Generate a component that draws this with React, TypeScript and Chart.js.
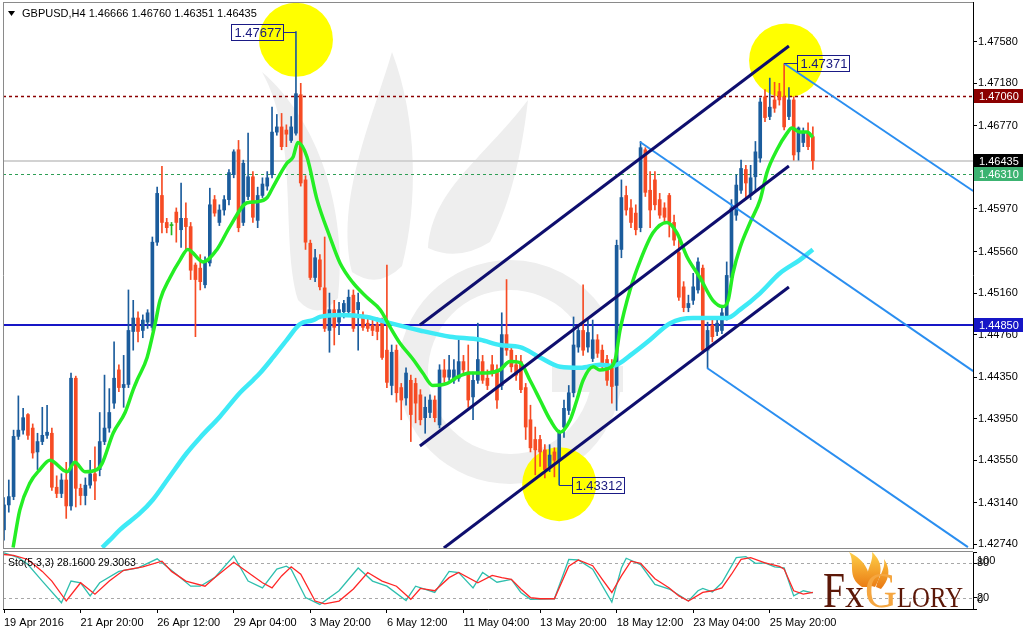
import React, { useEffect, useRef } from 'react';
import { Chart, registerables } from 'chart.js';

Chart.register(...registerables);

// GBPUSD H4 bars, 19 Apr 2016 04:00 .. 27 May 2016 08:00
const OPEN = [
  1.4288, 1.4312, 1.4320, 1.4378, 1.4384, 1.4399, 1.4386, 1.4363, 1.4373, 1.4379,
  1.4381, 1.4329, 1.4323, 1.4336, 1.4311, 1.4434, 1.4328, 1.4321, 1.4331, 1.4342,
  1.4346, 1.4373, 1.4386, 1.4410, 1.4442, 1.4425, 1.4428, 1.4479, 1.4492, 1.4480,
  1.4488, 1.4483, 1.4565, 1.4610, 1.4584, 1.4581, 1.4594, 1.4577, 1.4588, 1.4580,
  1.4543, 1.4540, 1.4524, 1.4545, 1.4606, 1.4584, 1.4596, 1.4606, 1.4630, 1.4654,
  1.4584, 1.4609, 1.4628, 1.4586, 1.4610, 1.4619, 1.4630, 1.4671, 1.4676, 1.4673,
  1.4663, 1.4670, 1.4707, 1.4625, 1.4564, 1.4531, 1.4548, 1.4521, 1.4480, 1.4500,
  1.4488, 1.4498, 1.4498, 1.4514, 1.4500, 1.4492, 1.4487, 1.4485, 1.4486, 1.4488,
  1.4461, 1.4427, 1.4461, 1.4425, 1.4415, 1.4432, 1.4429, 1.4418, 1.4396, 1.4401,
  1.4413, 1.4389, 1.4442, 1.4435, 1.4432, 1.4434, 1.4450, 1.4440, 1.4416, 1.4432,
  1.4450, 1.4434, 1.4447, 1.4442, 1.4427, 1.4476, 1.4461, 1.4447, 1.4450, 1.4425,
  1.4394, 1.4375, 1.4375, 1.4365, 1.4349, 1.4363, 1.4355, 1.4387, 1.4403, 1.4420,
  1.4464, 1.4480, 1.4464, 1.4453, 1.4471, 1.4461, 1.4452, 1.4447, 1.4427, 1.4558,
  1.4610, 1.4598, 1.4593, 1.4579, 1.4654, 1.4615, 1.4625, 1.4606, 1.4598, 1.4610,
  1.4584, 1.4555, 1.4522, 1.4502, 1.4509, 1.4519, 1.4540, 1.4461, 1.4485, 1.4479,
  1.4480, 1.4493, 1.4531, 1.4591, 1.4615, 1.4635, 1.4610, 1.4628, 1.4646, 1.4705,
  1.4686, 1.4702, 1.4710, 1.4705, 1.4686, 1.4702, 1.4652, 1.4661, 1.4671, 1.46666,
];
const HIGH = [
  1.4319, 1.4336, 1.4384, 1.4417, 1.4405, 1.4400, 1.4390, 1.4381, 1.4406, 1.4408,
  1.4386, 1.4340, 1.4342, 1.4353, 1.4439, 1.4436, 1.4332, 1.4338, 1.4355, 1.4368,
  1.4401, 1.4437, 1.4424, 1.4469, 1.4447, 1.4456, 1.4519, 1.4509, 1.4498, 1.4495,
  1.4500, 1.4570, 1.4618, 1.4638, 1.4588, 1.4584, 1.4598, 1.4622, 1.4603, 1.4584,
  1.4545, 1.4553, 1.4551, 1.4617, 1.4610, 1.4601, 1.4610, 1.4635, 1.4654, 1.4663,
  1.4644, 1.4670, 1.4633, 1.4618, 1.4627, 1.4633, 1.4695, 1.4688, 1.4689, 1.4678,
  1.4686, 1.47677, 1.4718, 1.4629, 1.4567, 1.4558, 1.4553, 1.4570, 1.4516, 1.4509,
  1.4507, 1.4509, 1.4519, 1.4519, 1.4516, 1.4498, 1.4492, 1.4490, 1.4492, 1.4492,
  1.4543, 1.4466, 1.4466, 1.4429, 1.4444, 1.4437, 1.4434, 1.4423, 1.4416, 1.4418,
  1.4417, 1.4447, 1.4452, 1.4456, 1.4452, 1.4471, 1.4456, 1.4466, 1.4440, 1.4487,
  1.4456, 1.4442, 1.4456, 1.4447, 1.4497, 1.4529, 1.4466, 1.4456, 1.4456, 1.4429,
  1.4408, 1.4387, 1.4379, 1.4370, 1.4370, 1.4367, 1.4384, 1.4413, 1.4427, 1.4493,
  1.4485, 1.4524, 1.4490, 1.4490, 1.4476, 1.4466, 1.4456, 1.4452, 1.4567, 1.4625,
  1.4619, 1.4606, 1.4601, 1.4662, 1.4656, 1.4633, 1.4633, 1.4612, 1.4603, 1.4612,
  1.4591, 1.4567, 1.4527, 1.4514, 1.4535, 1.4550, 1.4543, 1.4488, 1.4492, 1.4492,
  1.4503, 1.4546, 1.4606, 1.4630, 1.4644, 1.4639, 1.4639, 1.4662, 1.4704, 1.4712,
  1.4723, 1.4719, 1.4718, 1.47371, 1.4714, 1.4705, 1.4676, 1.4675, 1.4680, 1.46760,
];
const LOW = [
  1.4278, 1.4305, 1.4317, 1.4375, 1.4380, 1.4375, 1.4357, 1.4346, 1.4370, 1.4376,
  1.4326, 1.4319, 1.4319, 1.4299, 1.4307, 1.4310, 1.4312, 1.4312, 1.4328, 1.4317,
  1.4340, 1.4370, 1.4382, 1.4405, 1.4421, 1.4406, 1.4425, 1.4461, 1.4469, 1.4473,
  1.4482, 1.4480, 1.4562, 1.4574, 1.4574, 1.4572, 1.4565, 1.4560, 1.4558, 1.4529,
  1.4474, 1.4519, 1.4521, 1.4542, 1.4590, 1.4581, 1.4591, 1.4601, 1.4627, 1.4575,
  1.4581, 1.4606, 1.4584, 1.4579, 1.4608, 1.4615, 1.4627, 1.4668, 1.4654, 1.4657,
  1.4661, 1.4668, 1.4619, 1.4558, 1.4529, 1.4527, 1.4519, 1.4479, 1.4459, 1.4466,
  1.4476, 1.4492, 1.4495, 1.4479, 1.4461, 1.4480, 1.4479, 1.4475, 1.4471, 1.4452,
  1.4425, 1.4418, 1.4411, 1.4394, 1.4408, 1.4373, 1.4391, 1.4389, 1.4381, 1.4396,
  1.4392, 1.4386, 1.4430, 1.4432, 1.4429, 1.4431, 1.4439, 1.4406, 1.4394, 1.4429,
  1.4429, 1.4423, 1.4436, 1.4405, 1.4423, 1.4456, 1.4440, 1.4432, 1.4420, 1.4375,
  1.4363, 1.4341, 1.4349, 1.4338, 1.4344, 1.4339, 1.43312, 1.4377, 1.4399, 1.4416,
  1.4459, 1.4456, 1.4459, 1.4450, 1.4454, 1.4444, 1.4427, 1.4410, 1.4403, 1.4550,
  1.4591, 1.4579, 1.4572, 1.4575, 1.4609, 1.4579, 1.4596, 1.4588, 1.4584, 1.4570,
  1.4562, 1.4509, 1.4498, 1.4498, 1.4505, 1.4516, 1.4458, 1.4444, 1.4469, 1.4475,
  1.4477, 1.4490, 1.4529, 1.4586, 1.4612, 1.4606, 1.4606, 1.4615, 1.4642, 1.4681,
  1.4683, 1.4690, 1.4697, 1.4673, 1.4683, 1.4644, 1.4644, 1.4657, 1.4654, 1.46351,
];
const CLOSE = [
  1.4312, 1.4320, 1.4378, 1.4384, 1.4396, 1.4379, 1.4362, 1.4373, 1.4379, 1.4382,
  1.4329, 1.4323, 1.4336, 1.4311, 1.4434, 1.4328, 1.4321, 1.4331, 1.4342, 1.4335,
  1.4373, 1.4386, 1.4401, 1.4434, 1.4425, 1.4428, 1.4480, 1.4492, 1.4479, 1.4490,
  1.4497, 1.4565, 1.4612, 1.4584, 1.4579, 1.4581, 1.4584, 1.4588, 1.4580, 1.4538,
  1.4529, 1.4527, 1.4546, 1.4601, 1.4593, 1.4596, 1.4606, 1.4632, 1.4652, 1.4579,
  1.4641, 1.4628, 1.4589, 1.4610, 1.4621, 1.4627, 1.4671, 1.4676, 1.4657, 1.4669,
  1.4676, 1.4708, 1.4622, 1.4565, 1.4531, 1.4550, 1.4522, 1.4482, 1.4500, 1.4483,
  1.4500, 1.4506, 1.4512, 1.4482, 1.4507, 1.4483, 1.4482, 1.4480, 1.4479, 1.4454,
  1.4430, 1.4459, 1.4420, 1.4413, 1.4439, 1.4399, 1.4410, 1.4394, 1.4406, 1.4413,
  1.4396, 1.4442, 1.4435, 1.4442, 1.4442, 1.4450, 1.4442, 1.4413, 1.4432, 1.4452,
  1.4432, 1.4427, 1.4440, 1.4413, 1.4476, 1.4461, 1.4445, 1.4437, 1.4423, 1.4387,
  1.4367, 1.4365, 1.4363, 1.4346, 1.4360, 1.4355, 1.4381, 1.4405, 1.4420, 1.4466,
  1.4480, 1.4461, 1.4478, 1.4471, 1.4458, 1.4449, 1.4432, 1.4426, 1.4562, 1.4608,
  1.4596, 1.4584, 1.4577, 1.4656, 1.4613, 1.4596, 1.4601, 1.4591, 1.4589, 1.4584,
  1.4567, 1.4512, 1.4502, 1.4506, 1.4522, 1.4546, 1.4461, 1.4480, 1.4474, 1.4487,
  1.4497, 1.4533, 1.4598, 1.4620, 1.4636, 1.4622, 1.4627, 1.4652, 1.4700, 1.4685,
  1.4695, 1.4694, 1.4702, 1.4676, 1.4702, 1.4649, 1.4675, 1.4671, 1.4657, 1.46435,
];

// Time axis: bar index of each label
const TIME_TICKS = [0, 16, 32, 48, 64, 80, 96, 112, 128, 144, 160];
const TIME_LABELS = [
  '19 Apr 2016', '21 Apr 20:00', '26 Apr 12:00', '29 Apr 04:00', '3 May 20:00', '6 May 12:00',
  '11 May 04:00', '13 May 20:00', '18 May 12:00', '23 May 04:00', '25 May 20:00',
];
const PRICE_TICKS = [1.4758, 1.4718, 1.4677, 1.4597, 1.4556, 1.4516, 1.4476, 1.4435, 1.4395, 1.4355, 1.4314, 1.4274];

// Moving averages as [bar, price]
const MA_FAST = [
  [1.9, 1.4271], [3.3, 1.4307], [5.4, 1.4333], [7.5, 1.4346], [9.6, 1.4355], [13.2, 1.4344], [14.8, 1.4353],
  [16.9, 1.4344], [19.4, 1.4346], [20.5, 1.4352], [22.8, 1.4381], [25.3, 1.4401], [27, 1.4423], [27.8, 1.4432],
  [29.9, 1.4454], [31.6, 1.4487], [32.6, 1.4509], [34.7, 1.4531], [36.8, 1.4548], [38.4, 1.4558], [41.6, 1.4546],
  [44.5, 1.4558], [47.2, 1.4580], [50.8, 1.4603], [52.9, 1.4604], [55, 1.4608], [56.2, 1.4618], [59.1, 1.4641],
  [60.4, 1.4647], [61.4, 1.4661], [63.3, 1.4647], [65.4, 1.4606], [68.1, 1.4570], [70.2, 1.4545], [72.9, 1.4526],
  [75.8, 1.4512], [78.6, 1.4500], [80.7, 1.4483], [82.7, 1.4468], [85.5, 1.4452], [87.5, 1.4439], [89.6, 1.4427],
  [92.6, 1.4429], [94.7, 1.4435], [97.4, 1.4439], [100.9, 1.4439], [103.6, 1.4442], [105.7, 1.4450], [107.8, 1.4449],
  [109.9, 1.4432], [112, 1.4413], [114.1, 1.4394], [116.2, 1.4382], [118.3, 1.4394], [119.7, 1.4413], [121, 1.4432],
  [123.1, 1.4445], [124.5, 1.4442], [126.6, 1.4444], [127.7, 1.4452], [128.7, 1.4480], [130.8, 1.4519], [133, 1.4548],
  [135.6, 1.4574], [138.5, 1.4584], [140.6, 1.4574], [142.7, 1.4551], [145.4, 1.4531], [148.1, 1.4509], [150.2, 1.4503],
  [151.3, 1.4509], [152.3, 1.4535], [153.8, 1.4560], [155.9, 1.4584], [158, 1.4606], [159.4, 1.4632], [161.5, 1.4654],
  [163.6, 1.4670], [164.6, 1.4675], [166.3, 1.4671], [167.8, 1.4671], [169, 1.4666],
];
const MA_SLOW = [
  [20.5, 1.4271], [22.1, 1.4278], [24.2, 1.4288], [28.4, 1.4304], [31.1, 1.4317], [34.1, 1.4336], [38.2, 1.4362],
  [41, 1.4377], [45.1, 1.4397], [49.3, 1.4420], [52, 1.4432], [53.5, 1.4439], [56.2, 1.4454], [59.1, 1.4471],
  [61.8, 1.4486], [64.6, 1.4490], [66, 1.4493], [70.2, 1.4495], [75.8, 1.4493], [80.7, 1.4487], [86.9, 1.4480],
  [93.2, 1.4474], [99.5, 1.4471], [103.6, 1.4466], [107.8, 1.4464], [112, 1.4454], [116.2, 1.4445], [120.4, 1.4444],
  [124.5, 1.4447], [127.2, 1.4446], [131.4, 1.4458], [135, 1.4471], [139.2, 1.4487], [144, 1.4492], [151.1, 1.4492],
  [153.8, 1.4500], [158, 1.4516], [162.1, 1.4535], [166.3, 1.4548], [169, 1.4558],
];

// Horizontal levels
const LEVEL_PRICES = [1.4706, 1.46435, 1.4631, 1.4485];
const LEVEL_LINE_COLORS = ['#8b0000', '#d2d2d2', '#2e9e55', '#1616c6'];
const LEVEL_TAG_COLORS = ['#8b0000', '#000000', '#3cb371', '#1616c6'];
const LEVEL_DASHES = [[3, 3], [], [3, 3], []];
const LEVEL_WIDTHS = [1.5, 2, 1, 2];

// Rising channel and falling lines, [bar, price] end points
const CHANNEL_TOP = [[86.9, 1.44852], [164.0, 1.47539]];
const CHANNEL_MID = [[86.9, 1.43687], [164.0, 1.46383]];
const CHANNEL_LOW = [[91.9, 1.42705], [164.0, 1.45218]];
const FALL_A = [[163.0, 1.47371], [202.5, 1.46143]];
const FALL_B = [[132.9, 1.46615], [202.5, 1.44409]];
const FALL_C = [[146.9, 1.44438], [201.4, 1.42714]];

// Marked extremes
const MARK_BARS = [61, 163, 116];
const MARK_PRICES = [1.47677, 1.47371, 1.43312];
const MARK_SIDES = ['left', 'right', 'right'];
const CIRCLE_BARS = [61, 163.4, 116];
const CIRCLE_PRICES = [1.4760, 1.4740, 1.4332];

// Stochastic (5,3,3) as [bar, value]
const STO_MAIN = [
  [0, 98.6], [3, 90], [5, 78], [8, 49], [12, 11], [14, 49], [16, 46], [18, 23], [20, 46], [24, 66], [28, 72], [32, 88],
  [36, 61], [39, 40], [41, 40], [44, 55], [48, 93], [51, 49], [54, 37], [57, 70], [59, 75], [60, 70], [63, 20], [66, 8],
  [70, 32], [74, 72], [77, 49], [80, 40], [84, 15], [86, 40], [90, 29], [93, 66], [95, 64], [98, 37], [100, 64], [103, 47],
  [106, 52], [108, 29], [110, 17], [115, 18], [118, 87], [120, 86], [123, 70], [127, 12], [129, 72], [130, 89], [133, 78],
  [136, 43], [139, 35], [143, 14], [145, 32], [146, 36], [148, 30], [150, 46], [153, 90], [155, 92], [157, 80], [159, 81],
  [161, 74], [163, 72], [165, 23], [167, 32], [169, 28.16],
];
const STO_SIGNAL = [
  [0, 95.6], [2, 93.9], [5, 86.9], [8, 66], [10, 49], [13, 14], [16, 46], [19, 26], [22, 49], [25, 68], [29, 74], [33, 84],
  [35, 66], [38, 49], [42, 40], [44, 55], [48, 82], [51, 64], [54, 46], [56, 37], [58, 58], [60, 74], [62, 61], [65, 14],
  [67, 9], [70, 14], [73, 35], [76, 64], [79, 49], [82, 40], [85, 17], [87, 36], [90, 32], [93, 55], [95, 64], [99, 46],
  [102, 59], [104, 55], [106, 52], [108, 35], [110, 20], [112, 18], [115, 18], [118, 75], [120, 86], [123, 76], [125, 52],
  [127, 29], [129, 58], [131, 84], [133, 80], [136, 53], [139, 37], [141, 23], [143, 14], [146, 29], [148, 32], [150, 37],
  [152, 61], [154, 87], [156, 90], [159, 81], [162, 75], [163, 70], [165, 32], [167, 26], [169, 29.3063],
];
const STO_LEVELS = [80, 20];

// ---- view settings ----
const X_MIN = -0.21;
const X_MAX = 202.46;
const Y_MIN = 1.42705;
const Y_MAX = 1.47963;

const BULL = '#1b5c9c';
const BEAR = '#f64b24';
const DOJI = '#22b822';
const SANS = '"Liberation Sans", Arial, sans-serif';
const SERIF = '"Liberation Serif", "DejaVu Serif", serif';

const candleColor = (i: number) => (CLOSE[i] > OPEN[i] ? BULL : CLOSE[i] < OPEN[i] ? BEAR : DOJI);
const pts = (arr: number[][]) => arr.map(([x, y]) => ({ x, y }));

const trend = (data: number[][], color: string, width: number) => ({
  type: 'line' as const,
  data: pts(data),
  borderColor: color,
  borderWidth: width,
  pointRadius: 0,
  tension: 0,
  order: 0,
});

function drawWatermark(ctx: CanvasRenderingContext2D) {
  ctx.save();
  ctx.fillStyle = '#eeeeee';
  // emblem ring
  ctx.beginPath();
  ctx.arc(510, 372, 112, 0, Math.PI * 2 - 0.6, false);
  ctx.arc(510, 372, 82, Math.PI * 2 - 0.6, 0, true);
  ctx.closePath();
  ctx.fill();
  ctx.fillRect(552, 366, 71, 26);
  // flame tongues
  ctx.beginPath();
  ctx.moveTo(298, 300);
  ctx.bezierCurveTo(280, 240, 300, 140, 262, 72);
  ctx.bezierCurveTo(318, 120, 348, 210, 338, 298);
  ctx.quadraticCurveTo(318, 322, 298, 300);
  ctx.fill();
  ctx.beginPath();
  ctx.moveTo(352, 272);
  ctx.bezierCurveTo(335, 200, 372, 120, 392, 52);
  ctx.bezierCurveTo(418, 120, 418, 205, 402, 266);
  ctx.quadraticCurveTo(378, 290, 352, 272);
  ctx.fill();
  ctx.beginPath();
  ctx.moveTo(428, 248);
  ctx.bezierCurveTo(432, 190, 482, 160, 528, 100);
  ctx.bezierCurveTo(520, 170, 505, 215, 490, 242);
  ctx.quadraticCurveTo(458, 262, 428, 248);
  ctx.fill();
  ctx.restore();
}

function fitText(ctx: CanvasRenderingContext2D, text: string, x: number, base: number, font: string, width: number, color: string | CanvasGradient) {
  ctx.save();
  ctx.font = font;
  ctx.fillStyle = color;
  ctx.textBaseline = 'alphabetic';
  const w = ctx.measureText(text).width;
  ctx.translate(x, base);
  ctx.scale(width / w, 1);
  ctx.fillText(text, 0, 0);
  ctx.restore();
}

function drawLogo(ctx: CanvasRenderingContext2D) {
  ctx.save();
  const g = ctx.createLinearGradient(0, 2, 0, 42);
  g.addColorStop(0, '#ffd24a');
  g.addColorStop(1, '#e8730f');
  ctx.fillStyle = g;
  ctx.beginPath();
  ctx.moveTo(862, 38);
  ctx.bezierCurveTo(846, 28, 856, 14, 849, 3);
  ctx.bezierCurveTo(866, 12, 872, 24, 868, 38);
  ctx.closePath();
  ctx.fill();
  ctx.beginPath();
  ctx.moveTo(868, 36);
  ctx.bezierCurveTo(864, 22, 874, 14, 872, 3);
  ctx.bezierCurveTo(884, 14, 882, 26, 875, 38);
  ctx.closePath();
  ctx.fill();
  ctx.beginPath();
  ctx.moveTo(876, 38);
  ctx.bezierCurveTo(878, 28, 886, 20, 884, 10);
  ctx.bezierCurveTo(892, 22, 888, 32, 881, 40);
  ctx.closePath();
  ctx.fill();
  ctx.restore();
  const brown = '#5c1808';
  const orange = ctx.createLinearGradient(0, 24, 0, 58);
  orange.addColorStop(0, '#f5a640');
  orange.addColorStop(1, '#d86a14');
  fitText(ctx, 'F', 823, 58, `50px ${SERIF}`, 22, brown);
  fitText(ctx, 'x', 845, 58, `40px ${SERIF}`, 19, brown);
  fitText(ctx, 'G', 865, 58, `50px ${SERIF}`, 32, orange);
  fitText(ctx, 'LORY', 897, 58, `30px ${SERIF}`, 66, brown);
}

export default function App() {
  const mainRef = useRef<HTMLCanvasElement>(null);
  const stoRef = useRef<HTMLCanvasElement>(null);

  useEffect(() => {
    const last = OPEN.length - 1;

    const mainDecor = {
      id: 'mainDecor',
      beforeDraw(chart: any) {
        const { ctx } = chart;
        ctx.save();
        ctx.fillStyle = '#ffffff';
        ctx.fillRect(0, 0, chart.width, chart.height);
        ctx.restore();
        drawWatermark(ctx);
      },
      beforeDatasetsDraw(chart: any) {
        const { ctx, chartArea: a, scales } = chart;
        const xs = scales.x;
        const ys = scales.y;
        ctx.save();
        ctx.beginPath();
        ctx.rect(a.left, a.top, a.right - a.left, a.bottom - a.top);
        ctx.clip();
        ctx.fillStyle = '#ffff00';
        CIRCLE_BARS.forEach((b, k) => {
          ctx.beginPath();
          ctx.arc(xs.getPixelForValue(b), ys.getPixelForValue(CIRCLE_PRICES[k]), 37, 0, Math.PI * 2);
          ctx.fill();
        });
        LEVEL_PRICES.forEach((p, k) => {
          const yy = Math.round(ys.getPixelForValue(p)) + (LEVEL_WIDTHS[k] === 2 ? 0 : 0.5);
          ctx.beginPath();
          ctx.setLineDash(LEVEL_DASHES[k]);
          ctx.strokeStyle = LEVEL_LINE_COLORS[k];
          ctx.lineWidth = LEVEL_WIDTHS[k];
          ctx.moveTo(a.left, yy);
          ctx.lineTo(a.right, yy);
          ctx.stroke();
        });
        ctx.restore();
      },
      afterDatasetsDraw(chart: any) {
        const { ctx, chartArea: a, scales } = chart;
        const xs = scales.x;
        const ys = scales.y;
        ctx.save();
        // marked extremes
        ctx.font = `13px ${SANS}`;
        ctx.textBaseline = 'middle';
        MARK_BARS.forEach((b, k) => {
          const bx = xs.getPixelForValue(b);
          const py = Math.round(ys.getPixelForValue(MARK_PRICES[k])) + 0.5;
          const text = MARK_PRICES[k].toFixed(5);
          const w = Math.round(ctx.measureText(text).width) + 5;
          const left = MARK_SIDES[k] === 'left' ? Math.round(bx - 13 - w) + 0.5 : Math.round(bx + 13) + 0.5;
          ctx.strokeStyle = '#22308c';
          ctx.lineWidth = 1;
          ctx.beginPath();
          if (MARK_SIDES[k] === 'left') {
            ctx.moveTo(left + w, py);
            ctx.lineTo(bx, py);
          } else {
            ctx.moveTo(bx, py);
            ctx.lineTo(left, py);
          }
          ctx.stroke();
          ctx.strokeStyle = '#1a1a86';
          ctx.strokeRect(left, py - 8, w, 16);
          ctx.fillStyle = '#17177e';
          ctx.fillText(text, left + 3, py + 0.5);
        });
        // title
        ctx.fillStyle = '#000';
        ctx.beginPath();
        ctx.moveTo(8, 11);
        ctx.lineTo(15, 11);
        ctx.lineTo(11.5, 16);
        ctx.closePath();
        ctx.fill();
        ctx.font = `11px ${SANS}`;
        ctx.textBaseline = 'middle';
        ctx.fillText(
          `GBPUSD,H4 ${OPEN[last].toFixed(5)} ${HIGH[last].toFixed(5)} ${LOW[last].toFixed(5)} ${CLOSE[last].toFixed(5)}`,
          22,
          14,
        );
        // frame
        ctx.strokeStyle = '#8a8a8a';
        ctx.lineWidth = 1;
        ctx.beginPath();
        ctx.moveTo(a.left + 0.5, a.top);
        ctx.lineTo(a.left + 0.5, a.bottom + 1);
        ctx.moveTo(a.left, a.top + 0.5);
        ctx.lineTo(a.right, a.top + 0.5);
        ctx.moveTo(a.left, a.bottom + 0.5);
        ctx.lineTo(a.right, a.bottom + 0.5);
        ctx.stroke();
        ctx.restore();
      },
      afterDraw(chart: any) {
        const { ctx, chartArea: a, scales } = chart;
        const ys = scales.y;
        ctx.save();
        ctx.font = `11px ${SANS}`;
        ctx.textBaseline = 'middle';
        LEVEL_PRICES.forEach((p, k) => {
          const yy = Math.round(ys.getPixelForValue(p));
          ctx.fillStyle = LEVEL_TAG_COLORS[k];
          ctx.fillRect(a.right + 1, yy - 7, 49, 14);
          ctx.fillStyle = '#ffffff';
          ctx.fillText(p.toFixed(5), a.right + 6, yy + 0.5);
        });
        ctx.restore();
      },
    };

    const main = new Chart(mainRef.current as HTMLCanvasElement, {
      type: 'bar',
      data: {
        datasets: [
          trend(CHANNEL_TOP, '#0e0e6e', 3),
          trend(CHANNEL_MID, '#0e0e6e', 3),
          trend(CHANNEL_LOW, '#0e0e6e', 3),
          trend(FALL_A, '#2a8ef0', 2),
          trend(FALL_B, '#2a8ef0', 2),
          trend(FALL_C, '#2a8ef0', 2),
          {
            type: 'line',
            data: pts(MA_FAST),
            borderColor: '#24ee24',
            borderWidth: 3.5,
            pointRadius: 0,
            cubicInterpolationMode: 'monotone',
            order: 1,
          },
          {
            type: 'line',
            data: pts(MA_SLOW),
            borderColor: '#3eeaf6',
            borderWidth: 4.5,
            pointRadius: 0,
            cubicInterpolationMode: 'monotone',
            order: 2,
          },
          {
            type: 'bar',
            data: OPEN.map((o, i) => ({ x: i, y: [o, CLOSE[i]] })),
            backgroundColor: (c: any) => candleColor(c.dataIndex),
            borderWidth: 0,
            barThickness: 3,
            minBarLength: 1,
            grouped: false,
            order: 3,
          },
          {
            type: 'bar',
            data: LOW.map((l, i) => ({ x: i, y: [l, HIGH[i]] })),
            backgroundColor: (c: any) => candleColor(c.dataIndex),
            borderWidth: 0,
            barThickness: 1,
            grouped: false,
            order: 4,
          },
        ] as any,
      },
      options: {
        animation: false,
        responsive: false,
        devicePixelRatio: 1,
        events: [],
        layout: { padding: { left: 3, top: 2, right: 0, bottom: 1 }, autoPadding: false },
        plugins: { legend: { display: false }, tooltip: { enabled: false }, title: { display: false } },
        scales: {
          x: {
            type: 'linear',
            min: X_MIN,
            max: X_MAX,
            bounds: 'data',
            offset: false,
            display: false,
          },
          y: {
            type: 'linear',
            position: 'right',
            min: Y_MIN,
            max: Y_MAX,
            bounds: 'data',
            afterBuildTicks: (s: any) => {
              s.ticks = PRICE_TICKS.map((v) => ({ value: v }));
            },
            afterFit: (s: any) => {
              s.width = 51;
              s.paddingTop = 0;
              s.paddingBottom = 0;
            },
            ticks: {
              autoSkip: false,
              padding: 1,
              color: '#000',
              font: { family: SANS, size: 11 },
              callback: (v: any) => Number(v).toFixed(5),
            },
            grid: { drawOnChartArea: false, drawTicks: true, tickLength: 4, color: '#000', lineWidth: 1 },
            border: { display: true, color: '#000', width: 1 },
          },
        },
      } as any,
      plugins: [mainDecor],
    });

    const stoDecor = {
      id: 'stoDecor',
      beforeDraw(chart: any) {
        const { ctx } = chart;
        ctx.save();
        ctx.fillStyle = '#ffffff';
        ctx.fillRect(0, 0, chart.width, chart.height);
        ctx.restore();
      },
      beforeDatasetsDraw(chart: any) {
        const { ctx, chartArea: a, scales } = chart;
        ctx.save();
        ctx.strokeStyle = '#a8a8a8';
        ctx.lineWidth = 1;
        ctx.setLineDash([3, 3]);
        STO_LEVELS.forEach((lv) => {
          const yy = Math.round(scales.y.getPixelForValue(lv)) + 0.5;
          ctx.beginPath();
          ctx.moveTo(a.left, yy);
          ctx.lineTo(a.right, yy);
          ctx.stroke();
        });
        ctx.restore();
      },
      afterDatasetsDraw(chart: any) {
        const { ctx, chartArea: a } = chart;
        drawLogo(ctx);
        ctx.save();
        ctx.fillStyle = '#000';
        ctx.font = `10.5px ${SANS}`;
        ctx.textBaseline = 'middle';
        const m = STO_MAIN[STO_MAIN.length - 1][1];
        const s = STO_SIGNAL[STO_SIGNAL.length - 1][1];
        ctx.fillText(`Sto(5,3,3) ${m.toFixed(4)} ${s.toFixed(4)}`, 8, 14);
        ctx.strokeStyle = '#8a8a8a';
        ctx.beginPath();
        ctx.moveTo(a.left + 0.5, a.top);
        ctx.lineTo(a.left + 0.5, a.bottom);
        ctx.moveTo(a.left, a.top - 0.5);
        ctx.lineTo(a.right, a.top - 0.5);
        ctx.stroke();
        ctx.restore();
      },
      afterDraw(chart: any) {
        const { ctx, chartArea: a, scales } = chart;
        const ys = scales.y;
        ctx.save();
        ctx.fillStyle = '#000';
        ctx.font = `11px ${SANS}`;
        ctx.textBaseline = 'middle';
        const y80 = ys.getPixelForValue(80);
        const y20 = ys.getPixelForValue(20);
        ctx.fillText('100', a.right + 4, y80 - 2);
        ctx.fillText('80', a.right + 4, y80);
        ctx.fillText('20', a.right + 4, y20);
        ctx.fillText('0', a.right + 4, y20 + 2);
        ctx.restore();
      },
    };

    const sto = new Chart(stoRef.current as HTMLCanvasElement, {
      type: 'line',
      data: {
        datasets: [
          {
            data: pts(STO_SIGNAL),
            borderColor: '#ff2626',
            borderWidth: 1.3,
            pointRadius: 0,
            tension: 0,
          },
          {
            data: pts(STO_MAIN),
            borderColor: '#2ebfae',
            borderWidth: 1.3,
            pointRadius: 0,
            tension: 0,
          },
        ],
      },
      options: {
        animation: false,
        responsive: false,
        devicePixelRatio: 1,
        events: [],
        layout: { padding: { left: 3, top: 3, right: 0, bottom: 0 }, autoPadding: false },
        plugins: { legend: { display: false }, tooltip: { enabled: false } },
        scales: {
          x: {
            type: 'linear',
            min: X_MIN,
            max: X_MAX,
            bounds: 'data',
            offset: false,
            position: 'bottom',
            afterBuildTicks: (s: any) => {
              s.ticks = TIME_TICKS.map((v) => ({ value: v }));
            },
            afterFit: (s: any) => {
              s.height = 27;
              s.paddingLeft = 0;
              s.paddingRight = 0;
            },
            ticks: {
              autoSkip: false,
              maxRotation: 0,
              minRotation: 0,
              align: 'start',
              padding: 3,
              color: '#000',
              font: { family: SANS, size: 11 },
              callback: (_v: any, i: number) => TIME_LABELS[i] ?? '',
            },
            grid: { drawOnChartArea: false, drawTicks: true, tickLength: 4, color: '#000' },
            border: { display: true, color: '#000', width: 1 },
          },
          y: {
            type: 'linear',
            position: 'right',
            min: 0,
            max: 100,
            bounds: 'data',
            afterBuildTicks: (s: any) => {
              s.ticks = [0, 20, 80, 100].map((v) => ({ value: v }));
            },
            afterFit: (s: any) => {
              s.width = 51;
              s.paddingTop = 0;
              s.paddingBottom = 0;
            },
            ticks: { display: false },
            grid: { drawOnChartArea: false, drawTicks: true, tickLength: 4, color: '#000' },
            border: { display: true, color: '#000', width: 1 },
          },
        },
      } as any,
      plugins: [stoDecor],
    });

    return () => {
      main.destroy();
      sto.destroy();
    };
  }, []);

  return (
    <div style={{ position: 'fixed', left: 0, top: 0, width: 1024, height: 636, background: '#ffffff', overflow: 'hidden' }}>
      <canvas ref={mainRef} width={1024} height={549} style={{ position: 'absolute', left: 0, top: 0 }} />
      <canvas ref={stoRef} width={1024} height={87} style={{ position: 'absolute', left: 0, top: 549 }} />
    </div>
  );
}
